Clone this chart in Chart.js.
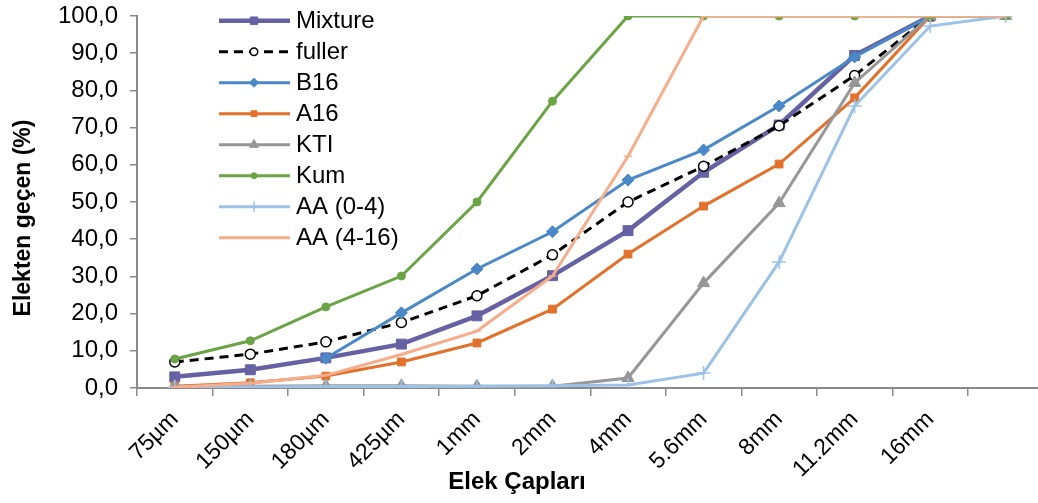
<!DOCTYPE html>
<html>
<head>
<meta charset="utf-8">
<script src="https://cdn.jsdelivr.net/npm/chart.js@4"></script>
<style>
html, body { margin: 0; padding: 0; background: #fff; overflow: hidden; }
#wrap { width: 1052px; height: 503px; }
</style>
</head>
<body>
<div id="wrap"><canvas id="chart" width="1052" height="503"></canvas></div>
<script>
// elek çapları (sieve sizes) - last category has no label
const sieves = ['75µm', '150µm', '180µm', '425µm', '1mm', '2mm', '4mm', '5.6mm', '8mm', '11.2mm', '16mm', ''];

const mixture = [3.0, 4.9, 8.1, 11.8, 19.4, 30.2, 42.3, 58.0, 70.7, 89.4, 100, null];
const fuller  = [7.0, 9.1, 12.4, 17.6, 24.8, 35.8, 50.0, 59.6, 70.5, 84.0, 100, null];
const b16     = [null, null, 8.0, 20.2, 32.0, 42.0, 55.9, 64.0, 75.8, 89.0, 100, null];
const a16     = [0.5, 1.4, 3.2, 7.0, 12.1, 21.2, 36.0, 48.9, 60.2, 78.0, 100, null];
const kti     = [0.5, 0.5, 0.6, 0.6, 0.5, 0.5, 2.7, 28.2, 49.7, 82.0, 100, 100];
const kum     = [7.8, 12.7, 21.8, 30.1, 50.0, 77.1, 100, 100, 100, 100, 100, 100];
const aa04    = [0.2, 0.3, 0.4, 0.4, 0.5, 0.6, 0.8, 4.0, 33.9, 75.8, 97.3, 100];
const aa416   = [0.2, 1.3, 3.4, 9.0, 15.3, 30.1, 62.3, 100, 100, 100, 100, 100];

const yTicks = [0, 10, 20, 30, 40, 50, 60, 70, 80, 90, 100];

const xTitle = 'Elek Çapları';
const yTitle = 'Elekten geçen (%)';

const fontFamily = '"Liberation Sans", Arial, sans-serif';
Chart.defaults.font.family = fontFamily;
Chart.defaults.color = '#000';

const axisColor = '#8a8a8a';

function series(label, data, color, opts) {
    return Object.assign({
        label: label,
        data: data,
        borderColor: color,
        backgroundColor: color,
        pointBackgroundColor: color,
        pointBorderColor: color,
        borderWidth: 3,
        pointBorderWidth: 1,
        tension: 0,
        spanGaps: false
    }, opts);
}

const datasets = [
    series('Mixture', mixture, '#6561a3', {borderWidth: 4.5, pointStyle: 'rect', pointRadius: 7}),
    series('fuller', fuller, '#000000', {borderWidth: 3, borderDash: [9, 6], pointStyle: 'circle', pointRadius: 5, pointBackgroundColor: '#ffffff', pointBorderWidth: 1.5}),
    series('B16', b16, '#4a88c7', {pointStyle: 'rectRot', pointRadius: 6}),
    series('A16', a16, '#e2712b', {pointStyle: 'rect', pointRadius: 5.5}),
    series('KTI', kti, '#979797', {pointStyle: 'triangle', pointRadius: 7}),
    series('Kum', kum, '#6aa444', {pointStyle: 'circle', pointRadius: 4}),
    series('AA (0-4)', aa04, '#9cc2e7', {pointStyle: 'cross', pointRadius: 7, pointBorderWidth: 1.5}),
    series('AA (4-16)', aa416, '#f5ad8c', {pointStyle: 'line', pointRadius: 4, pointBorderWidth: 1.5})
];
// later series drawn on top, like the original
datasets.forEach((d, i) => { d.order = datasets.length - i; });

// legend inside the plot area + axis titles
const extras = {
    id: 'extras',
    afterDraw(chart) {
        const ctx = chart.ctx;
        chart.data.datasets.forEach((ds, i) => {
            const y = 20.7 + i * 31;
            ctx.save();
            ctx.strokeStyle = ds.borderColor;
            ctx.lineWidth = ds.borderWidth;
            ctx.setLineDash(ds.borderDash || []);
            ctx.beginPath();
            ctx.moveTo(219, y);
            ctx.lineTo(290, y);
            ctx.stroke();
            ctx.setLineDash([]);
            ctx.fillStyle = ds.pointBackgroundColor;
            ctx.strokeStyle = ds.pointBorderColor;
            ctx.lineWidth = ds.pointBorderWidth;
            if (ds.pointStyle !== 'line') {
                Chart.helpers.drawPoint(ctx, {pointStyle: ds.pointStyle, radius: ds.pointRadius * 0.75, borderWidth: ds.pointBorderWidth, rotation: 0}, 254, y);
            }
            ctx.fillStyle = '#000';
            ctx.font = '24px ' + fontFamily;
            ctx.textBaseline = 'middle';
            ctx.fillText(ds.label, 296, y + 1);
            ctx.restore();
        });

        ctx.save();
        ctx.fillStyle = '#000';
        ctx.font = 'bold 24px ' + fontFamily;
        ctx.textAlign = 'center';
        ctx.textBaseline = 'middle';
        ctx.fillText(xTitle, 517, 482);
        ctx.translate(24, 218);
        ctx.rotate(-Math.PI / 2);
        ctx.font = 'bold 23px ' + fontFamily;
        ctx.fillText(yTitle, 0, 0);
        ctx.restore();
    }
};

function noPad(s) {
    s.paddingTop = 0;
    s.paddingBottom = 0;
    s.paddingLeft = 0;
    s.paddingRight = 0;
}

new Chart(document.getElementById('chart'), {
    type: 'line',
    data: {
        labels: sieves,
        datasets: datasets
    },
    options: {
        responsive: false,
        animation: false,
        layout: {padding: {top: 16, right: 3, left: 0, bottom: 0}},
        plugins: {
            legend: {display: false},
            tooltip: {enabled: false}
        },
        scales: {
            x: {
                offset: true,
                grid: {offset: true, drawOnChartArea: false, tickLength: 8, color: axisColor, lineWidth: 1.5},
                border: {color: axisColor, width: 2},
                ticks: {maxRotation: 45, minRotation: 45, autoSkip: false, padding: 10, font: {size: 23}},
                afterFit(s) { s.height = 115; noPad(s); }
            },
            y: {
                min: 0,
                max: 100,
                afterBuildTicks(s) { s.ticks = yTicks.map(v => ({value: v})); },
                ticks: {callback: v => v.toFixed(1).replace('.', ','), padding: 12, font: {size: 24}},
                grid: {drawOnChartArea: false, tickLength: 7, color: axisColor, lineWidth: 1.5},
                border: {color: axisColor, width: 2},
                afterFit(s) { s.width = 137; noPad(s); }
            }
        }
    },
    plugins: [extras]
});
</script>
</body>
</html>
